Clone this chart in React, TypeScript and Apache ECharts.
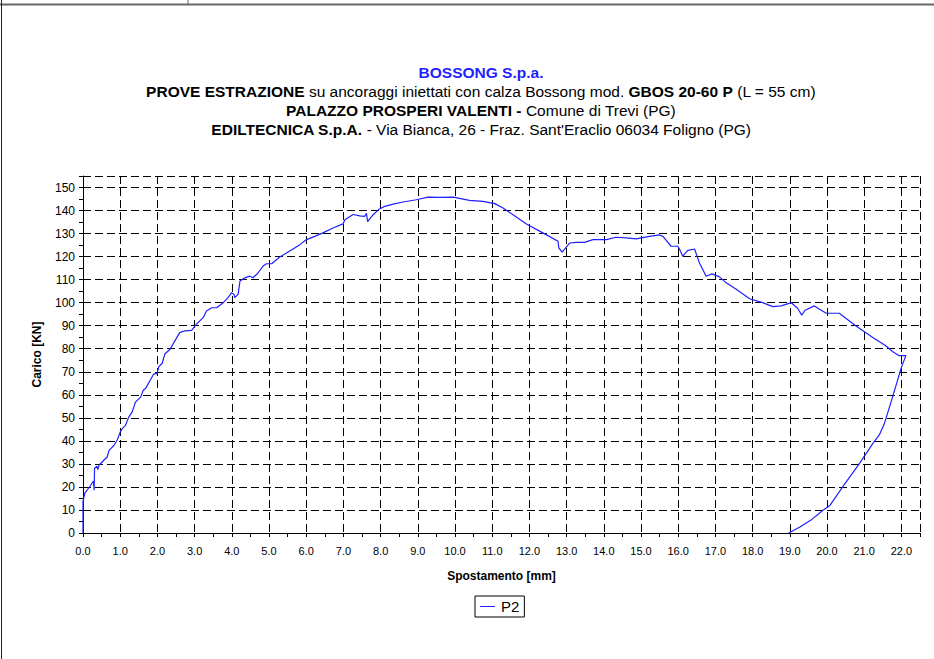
import React, { useEffect, useRef } from "react";
import * as echarts from "echarts";

const seriesName = "P2";
const displacement = [
  0, 0, 0.05, 0.19, 0.28, 0.3, 0.31, 0.37, 0.4, 0.43, 0.56, 0.65, 0.7, 0.83, 0.92, 1.0, 1.05, 1.14, 1.23, 1.32,
  1.41, 1.55, 1.62, 1.68, 1.81, 1.9, 1.99, 2.04, 2.13, 2.2, 2.34, 2.47, 2.6, 2.74, 2.92, 3.05, 3.23, 3.32, 3.46,
  3.59, 3.77, 3.9, 3.99, 4.06, 4.08, 4.17, 4.22, 4.35, 4.49, 4.57, 4.71, 4.84, 4.93, 5.07, 5.29, 5.47, 5.83, 6.01,
  6.23, 6.45, 6.72, 6.99, 7.04, 7.26, 7.44, 7.57, 7.62, 7.65, 7.8, 7.96, 8.11, 8.34, 8.6, 8.96, 9.27, 9.59, 9.95,
  10.39, 10.75, 11.07, 11.29, 11.56, 11.92, 12.36, 12.77, 12.79, 12.88, 13.08, 13.26, 13.48, 13.71, 14.07, 14.33,
  14.6, 14.87, 15.23, 15.5, 15.59, 15.81, 15.99, 16.04, 16.12, 16.26, 16.44, 16.57, 16.75, 16.91, 17.11, 17.29,
  17.56, 17.92, 18.27, 18.54, 18.77, 19.04, 19.21, 19.32, 19.41, 19.66, 19.8, 19.98, 20.33, 20.78, 21.23, 21.58,
  21.76, 21.94, 22.12, 22.0, 21.76, 21.54, 21.41, 21.23, 20.87, 20.42, 20.07, 19.89, 19.57, 19.26, 18.97,
];
const load = [
  0, 13.8, 17.3, 20.3, 22.6, 18.6, 28, 29, 27.5, 29.4, 31.6, 33, 35.9, 38, 40.4, 43.8, 45.2, 46.7, 50.3, 52.5,
  56.8, 59, 62, 62.7, 66.4, 69, 69.3, 72.2, 73.7, 77.7, 79.8, 83.4, 87, 87.8, 88, 90.7, 93.5, 96.4, 97.8,
  97.8, 100, 102.2, 104.3, 103.6, 102.2, 103.6, 109.4, 110.8, 111.5, 110.8, 113, 115.9, 116.9, 116.9, 119.8, 121.6, 125.2, 127.4,
  128.8, 130.3, 132.4, 134.2, 136, 138.3, 137.7, 137.5, 138.8, 135.2, 138.2, 140.6, 141.8, 142.8, 143.7, 144.7, 145.8, 145.7, 145.8,
  144.4, 144, 143, 141.1, 138.2, 134.2, 130.3, 126.7, 123.8, 121.9, 125.9, 126.2, 126.2, 127.4, 127.4, 128.4,
  128.1, 127.7, 128.8, 129.4, 128.8, 124.5, 124.5, 123.1, 120.2, 122.7, 123.3, 117.3, 111.5, 112.5, 111.2, 108.6,
  105.8, 101.7, 100, 98.3, 98.6, 100, 97.6, 94.6, 96.7, 98.6, 97.1, 95.4, 95.4, 89.9, 84.9, 81.3,
  78.8, 77, 77, 71.9, 58.9, 47.4, 42.7, 38.8, 30.1, 20, 11.8, 9.9, 5.6, 2.5, 0,
];

const titleLine1 = "BOSSONG S.p.a.";
const titleLine2 = ["PROVE ESTRAZIONE", " su ancoraggi iniettati con calza Bossong mod. ", "GBOS 20-60 P", " (L = 55 cm)"];
const titleLine3 = ["PALAZZO PROSPERI VALENTI -", " Comune di Trevi (PG)"];
const titleLine4 = ["EDILTECNICA S.p.A.", " - Via Bianca, 26 - Fraz. Sant'Eraclio 06034 Foligno (PG)"];
const xAxisName = "Spostamento [mm]";
const yAxisName = "Carico [KN]";

const FONT = "'Liberation Sans', Arial, sans-serif";
const TFS = 15.5;

export default function App() {
  const ref = useRef<HTMLDivElement>(null);
  useEffect(() => {
    if (!ref.current) return;
    const chart = echarts.init(ref.current, null, { renderer: "svg" });
    const data = displacement.map((x, i) => [x, load[i]]);
    const rich = {
      b: { fontWeight: "bold", fontSize: TFS, fontFamily: FONT, fill: "#000", color: "#000" },
      n: { fontWeight: "normal", fontSize: TFS, fontFamily: FONT, fill: "#000", color: "#000" },
    };
    const mk = (parts: string[]) => parts.map((p, i) => `{${i % 2 === 0 ? "b" : "n"}|${p}}`).join("");
    const titleText = (text: string, y: number, extra: any = {}) => ({
      type: "text",
      x: 481,
      y,
      style: {
        text,
        align: "center",
        verticalAlign: "middle",
        fontFamily: FONT,
        fontSize: TFS,
        rich,
        ...extra,
      },
    });
    chart.setOption({
      animation: false,
      backgroundColor: "#fff",
      textStyle: { fontFamily: FONT },
      graphic: [
        { type: "line", shape: { x1: 0, y1: 4.5, x2: 934, y2: 4.5 }, style: { stroke: "#666", lineWidth: 2 } },
        { type: "line", shape: { x1: 188, y1: 0, x2: 188, y2: 4 }, style: { stroke: "#666", lineWidth: 1 } },
        { type: "line", shape: { x1: 1.5, y1: 0, x2: 1.5, y2: 659 }, style: { stroke: "#222", lineWidth: 1 } },
        titleText(titleLine1, 72, { fill: "#1f1fff", fontWeight: "bold" }),
        titleText(mk(titleLine2), 91),
        titleText(mk(titleLine3), 110),
        titleText(mk(titleLine4), 129),
      ],
      legend: {
        data: [{ name: seriesName, icon: "rect" }],
        left: 475,
        top: 596,
        orient: "horizontal",
        padding: [3, 5, 3, 5],
        borderColor: "#000",
        borderWidth: 1,
        borderRadius: 0,
        itemWidth: 15,
        itemHeight: 1,
        itemGap: 4,
        itemStyle: { color: "#2020ff", borderWidth: 0 },
        textStyle: { fontSize: 15, color: "#000", fontFamily: FONT, padding: [0, 0, 0, 1] },
      },
      grid: { left: 83, right: 14, top: 176, bottom: 126, containLabel: false },
      xAxis: {
        type: "value",
        min: 0,
        max: 22.5,
        interval: 1,
        name: xAxisName,
        nameLocation: "middle",
        nameGap: 37,
        nameTextStyle: { fontWeight: "bold", fontSize: 12, color: "#000", fontFamily: FONT },
        axisLine: { show: true, onZero: false, lineStyle: { color: "#000", width: 1 } },
        axisTick: { show: true, inside: false, length: 4, lineStyle: { color: "#000" } },
        minorTick: { show: true, splitNumber: 2, length: 4, lineStyle: { color: "#000" } },
        axisLabel: {
          color: "#000",
          fontSize: 11,
          margin: 12,
          fontFamily: FONT,
          formatter: (v: number) => (v > 22.01 ? "" : v.toFixed(1)),
        },
        splitLine: { show: true, lineStyle: { color: "#000", type: [8, 4], width: 1 } },
      },
      yAxis: {
        type: "value",
        min: 0,
        max: 155,
        interval: 10,
        name: yAxisName,
        nameLocation: "middle",
        nameGap: 40,
        nameTextStyle: { fontWeight: "bold", fontSize: 12, color: "#000", fontFamily: FONT },
        axisLine: { show: true, onZero: false, lineStyle: { color: "#000", width: 1 } },
        axisTick: { show: true, inside: false, length: 4, lineStyle: { color: "#000" } },
        minorTick: { show: true, splitNumber: 2, length: 4, lineStyle: { color: "#000" } },
        axisLabel: {
          color: "#000",
          fontSize: 12,
          margin: 8,
          fontFamily: FONT,
          formatter: (v: number) => (v > 150.1 ? "" : String(v)),
        },
        splitLine: { show: true, lineStyle: { color: "#000", type: [8, 4], width: 1 } },
      },
      series: [
        {
          name: seriesName,
          type: "line",
          data,
          symbol: "none",
          showSymbol: false,
          smooth: false,
          lineStyle: { color: "#2020ff", width: 1.2 },
          itemStyle: { color: "#2020ff" },
        },
      ],
    });
    return () => chart.dispose();
  }, []);
  return <div ref={ref} style={{ width: 934, height: 659, position: "absolute", left: 0, top: 0 }} />;
}
